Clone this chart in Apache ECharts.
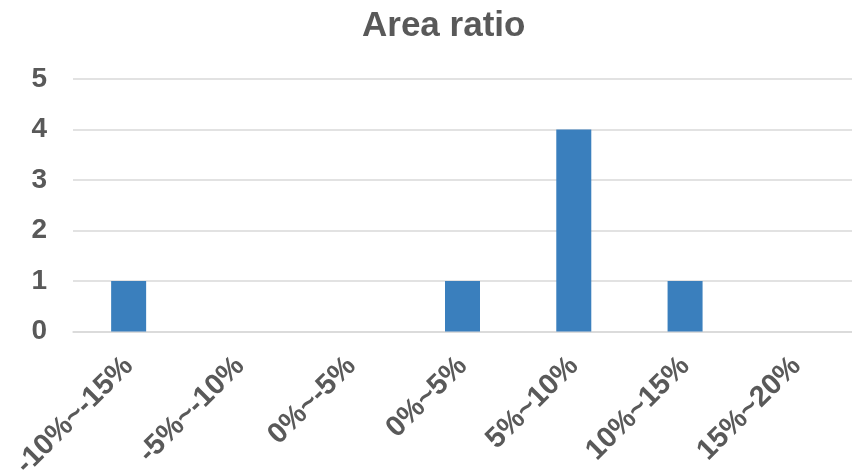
<!DOCTYPE html>
<html>
<head>
<meta charset="utf-8">
<script src="https://cdn.jsdelivr.net/npm/echarts@6/dist/echarts.min.js"></script>
<style>
  html, body { margin: 0; padding: 0; background: #ffffff; }
  #chart { width: 852px; height: 470px; }
</style>
</head>
<body>
<div id="chart"></div>
<script>
// Histogram of area ratio deviations
const categories = ['-10%~-15%', '-5%~-10%', '0%~-5%', '0%~5%', '5%~10%', '10%~15%', '15%~20%'];
const counts = [1, 0, 0, 1, 4, 1, 0];
const yTicks = { min: 0, max: 5, interval: 1 };

const textColor = '#595959';
const fontFamily = '"Liberation Sans", Arial, sans-serif';

const chart = echarts.init(document.getElementById('chart'));
chart.setOption({
  backgroundColor: '#ffffff',
  animation: false,
  title: {
    text: 'Area ratio',
    left: 357,
    top: 4,
    textStyle: { color: textColor, fontSize: 35, fontWeight: 'bold', fontFamily: fontFamily }
  },
  grid: { left: 73, right: 0, top: 79, bottom: 138.5, outerBoundsMode: 'none', containLabel: false },
  xAxis: {
    type: 'category',
    data: categories,
    axisLine: { show: true, lineStyle: { color: '#d9d9d9', width: 1.5 } },
    axisTick: { show: false },
    axisLabel: {
      rotate: 45,
      interval: 0,
      margin: 30,
      color: textColor,
      fontSize: 29,
      fontWeight: 'bold',
      fontFamily: fontFamily
    }
  },
  yAxis: {
    type: 'value',
    min: yTicks.min,
    max: yTicks.max,
    interval: yTicks.interval,
    axisLine: { show: false },
    axisTick: { show: false },
    splitLine: { lineStyle: { color: '#d9d9d9', width: 1.5 } },
    axisLabel: {
      margin: 26,
      color: textColor,
      fontSize: 28,
      fontWeight: 'bold',
      fontFamily: fontFamily
    }
  },
  series: [{
    type: 'bar',
    data: counts,
    barWidth: 35,
    itemStyle: { color: '#3a7fbd' }
  }]
});
</script>
</body>
</html>
